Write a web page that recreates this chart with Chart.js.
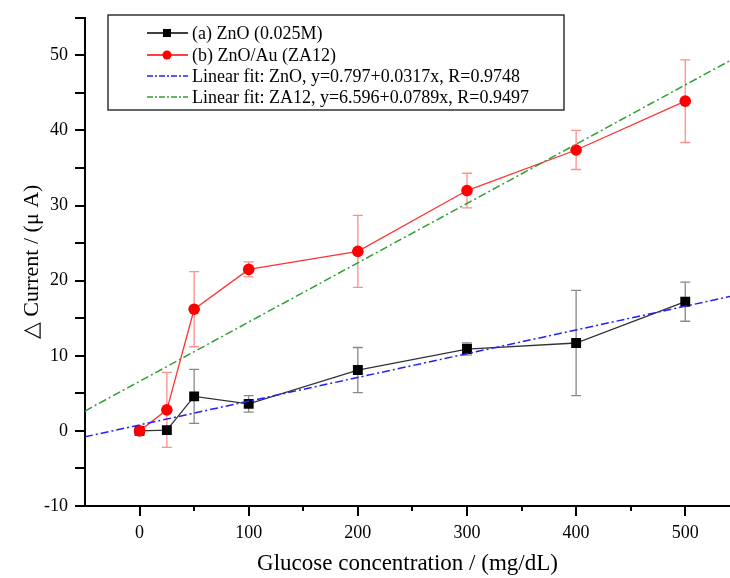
<!DOCTYPE html>
<html>
<head>
<meta charset="utf-8">
<script src="https://cdn.jsdelivr.net/npm/chart.js@4/dist/chart.umd.min.js"></script>
<style>
  html, body { margin: 0; padding: 0; background: #fff; }
  #wrap { width: 730px; height: 578px; }
</style>
</head>
<body>
<div id="wrap"><canvas id="chart" width="730" height="578"></canvas></div>
<script>
// --- Data ---
const concentrations = [0, 25, 50, 100, 200, 300, 400, 500];
const znoCurrent = [0, 0.1, 4.6, 3.6, 8.1, 10.9, 11.7, 17.2];
const znoError = [0.3, 0, 3.6, 1.1, 3.0, 0.8, 7.0, 2.6];
const za12Current = [0, 2.8, 16.2, 21.5, 23.9, 32.0, 37.4, 43.9];
const za12Error = [0, 5.0, 5.0, 1.0, 4.8, 2.3, 2.6, 5.5];

// fit lines, end points
const fitX = [-50, 541];
const znoFit = [-0.79, 17.9];
const za12Fit = [2.65, 49.3];

const minorXTicks = [50, 150, 250, 350, 450];

const legendLabels = [
    '(a) ZnO (0.025M)',
    '(b) ZnO/Au (ZA12)',
    'Linear fit: ZnO, y=0.797+0.0317x, R=0.9748',
    'Linear fit: ZA12, y=6.596+0.0789x, R=0.9497'
];

const serif = '"Liberation Serif", "Times New Roman", serif';
const pts = (xs, ys) => xs.map((x, i) => ({ x: x, y: ys[i] }));

// --- Error bars + short minor ticks on x ---
const errorBars = {
    id: 'errorBars',
    beforeDatasetsDraw(chart) {
        const { ctx, scales: { x, y } } = chart;
        const sets = [
            { vals: znoCurrent, errs: znoError, color: 'rgba(40,40,40,0.55)' },
            { vals: za12Current, errs: za12Error, color: 'rgba(255,50,50,0.55)' }
        ];
        ctx.save();
        ctx.lineWidth = 1.3;
        sets.forEach(s => {
            ctx.strokeStyle = s.color;
            concentrations.forEach((c, i) => {
                if (!s.errs[i]) return;
                const px = x.getPixelForValue(c);
                const top = y.getPixelForValue(s.vals[i] + s.errs[i]);
                const bot = y.getPixelForValue(s.vals[i] - s.errs[i]);
                ctx.beginPath();
                ctx.moveTo(px, top); ctx.lineTo(px, bot);
                ctx.moveTo(px - 5, top); ctx.lineTo(px + 5, top);
                ctx.moveTo(px - 5, bot); ctx.lineTo(px + 5, bot);
                ctx.stroke();
            });
        });
        ctx.restore();
    },
    afterDraw(chart) {
        const { ctx, scales: { x } } = chart;
        ctx.save();
        ctx.strokeStyle = '#000';
        ctx.lineWidth = 2;
        minorXTicks.forEach(v => {
            const px = Math.round(x.getPixelForValue(v));
            ctx.beginPath();
            ctx.moveTo(px, x.top);
            ctx.lineTo(px, x.top + 5);
            ctx.stroke();
        });
        ctx.restore();
    }
};

// --- Legend box ---
const legendBox = {
    id: 'legendBox',
    afterDraw(chart) {
        const ctx = chart.ctx;
        const bx = 108, by = 15, bw = 456, bh = 95;
        ctx.save();
        ctx.fillStyle = '#fff';
        ctx.fillRect(bx, by, bw, bh);
        ctx.strokeStyle = '#333';
        ctx.lineWidth = 1.5;
        ctx.strokeRect(bx, by, bw, bh);

        const rows = [33, 55, 76, 97];
        const colors = ['#000', '#ff0000', '#2020ff', '#30a030'];
        rows.forEach((ry, i) => {
            ctx.strokeStyle = colors[i];
            ctx.lineWidth = 1.3;
            if (i < 2) {
                ctx.beginPath();
                ctx.moveTo(147, ry); ctx.lineTo(188, ry);
                ctx.stroke();
                ctx.fillStyle = colors[i];
                if (i === 0) {
                    ctx.fillRect(163, ry - 4, 8, 8);
                } else {
                    ctx.beginPath();
                    ctx.arc(167, ry, 4.5, 0, Math.PI * 2);
                    ctx.fill();
                }
            } else {
                ctx.setLineDash([6, 2, 2, 2]);
                ctx.beginPath();
                ctx.moveTo(147, ry); ctx.lineTo(188, ry);
                ctx.stroke();
                ctx.setLineDash([]);
            }
            ctx.fillStyle = '#000';
            ctx.font = '18px ' + serif;
            ctx.textBaseline = 'middle';
            ctx.fillText(legendLabels[i], 192, ry + 1);
        });
        ctx.restore();
    }
};

new Chart(document.getElementById('chart'), {
    type: 'scatter',
    data: {
        datasets: [
            {
                label: legendLabels[0],
                data: pts(concentrations, znoCurrent),
                showLine: true,
                borderColor: '#333',
                backgroundColor: '#000',
                borderWidth: 1.3,
                pointStyle: 'rect',
                pointRadius: 7,
                pointBorderWidth: 0,
                order: 3
            },
            {
                label: legendLabels[1],
                data: pts(concentrations, za12Current),
                showLine: true,
                borderColor: '#ff3333',
                backgroundColor: '#ff0000',
                borderWidth: 1.3,
                pointStyle: 'circle',
                pointRadius: 5.8,
                pointBorderWidth: 0,
                order: 2
            },
            {
                label: legendLabels[2],
                data: pts(fitX, znoFit),
                showLine: true,
                borderColor: '#2020ff',
                borderWidth: 1.5,
                borderDash: [8, 3, 2, 3],
                pointRadius: 0,
                order: 1
            },
            {
                label: legendLabels[3],
                data: pts(fitX, za12Fit),
                showLine: true,
                borderColor: '#30a030',
                borderWidth: 1.5,
                borderDash: [8, 3, 2, 3],
                pointRadius: 0,
                order: 1
            }
        ]
    },
    options: {
        responsive: false,
        animation: false,
        layout: { autoPadding: false, padding: { top: 17, right: 0, left: 0, bottom: 0 } },
        plugins: {
            legend: { display: false },
            tooltip: { enabled: false }
        },
        scales: {
            x: {
                type: 'linear',
                min: -50,
                max: 541,
                afterBuildTicks: scale => {
                    scale.ticks = scale.ticks.filter(t => t.value % 100 === 0);
                },
                afterFit: scale => { scale.height = 72; },
                ticks: {
                    stepSize: 50,
                    includeBounds: false,
                    autoSkip: false,
                    maxRotation: 0,
                    color: '#000',
                    font: { family: serif, size: 18 },
                    padding: 6
                },
                grid: {
                    drawOnChartArea: false,
                    drawTicks: true,
                    tickLength: 10,
                    lineWidth: 2,
                    color: '#000'
                },
                border: { display: true, color: '#000', width: 2 },
                title: {
                    display: true,
                    text: 'Glucose concentration / (mg/dL)',
                    color: '#000',
                    font: { family: serif, size: 23 },
                    padding: { top: 0, bottom: 0 }
                }
            },
            y: {
                min: -10,
                max: 55,
                afterBuildTicks: scale => {
                    scale.ticks = scale.ticks.filter(t => t.value % 5 === 0);
                },
                afterFit: scale => { scale.width = 85; },
                ticks: {
                    stepSize: 5,
                    autoSkip: false,
                    color: '#000',
                    font: { family: serif, size: 18 },
                    padding: 7,
                    callback: v => (v % 10 === 0 ? v : '')
                },
                grid: {
                    drawOnChartArea: false,
                    drawTicks: true,
                    tickLength: 10,
                    lineWidth: 2,
                    color: '#000'
                },
                border: { display: true, color: '#000', width: 2 },
                title: {
                    display: true,
                    text: '△ Current / (μ A)',
                    color: '#000',
                    font: { family: serif, size: 22 },
                    padding: { top: 19, bottom: 0 }
                }
            }
        }
    },
    plugins: [errorBars, legendBox]
});
</script>
</body>
</html>
